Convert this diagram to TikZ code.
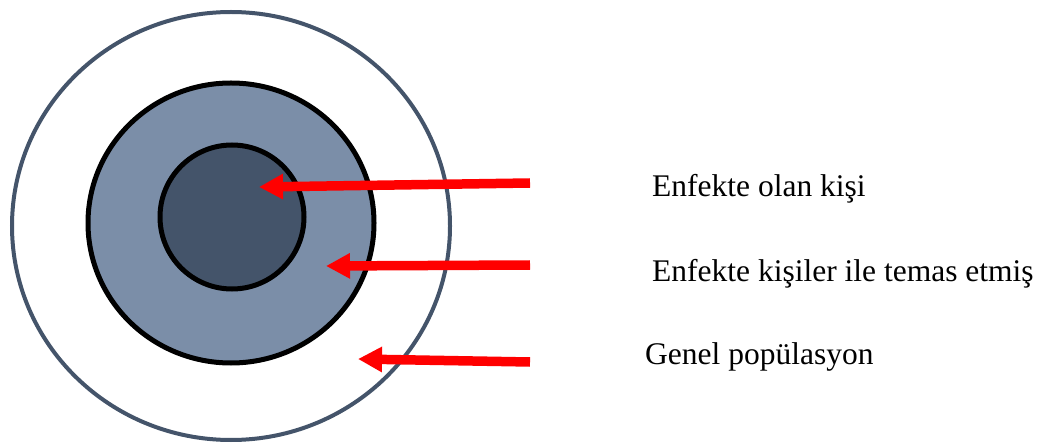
\documentclass[tikz,border=0pt]{standalone}
\usepackage{fontspec}
\setmainfont{Liberation Serif}
\usetikzlibrary{arrows.meta}
\definecolor{slate}{HTML}{44546A}
\definecolor{midblue}{HTML}{7B8EA8}
\definecolor{arrred}{HTML}{FF0000}
\tikzset{
  redarrow/.style={draw=arrred, line width=9.5pt, -{Triangle[length=24pt,width=24pt]}},
  lbl/.style={anchor=base west, inner sep=0pt, font=\fontsize{31.5pt}{34pt}\selectfont}
}
\begin{document}
\begin{tikzpicture}[x=1pt,y=-1pt]
\useasboundingbox (0,0) rectangle (1043,443);
% outer
\draw[slate, line width=4pt, fill=white] (231,226) ellipse [x radius=219, y radius=214];
% middle
\draw[black, line width=5pt, fill=midblue] (231,223) ellipse [x radius=143, y radius=140];
% inner
\draw[black, line width=5pt, fill=slate] (232,217) circle [radius=72];
% labels
\node[lbl] (l1) at (652,197) {Enfekte olan kişi};
\node[lbl] (l2) at (652,282) {Enfekte kişiler ile temas etmiş};
\node[lbl] (l3) at (645,364) {Genel popülasyon};
% arrow coordinates
\coordinate (s1) at (530,183);
\coordinate (t1) at (259,187);
\coordinate (s2) at (530,265);
\coordinate (t2) at (326,266);
\coordinate (s3) at (530,362);
\coordinate (t3) at (358,359);
\draw[redarrow] (s1) -- (t1);
\draw[redarrow] (s2) -- (t2);
\draw[redarrow] (s3) -- (t3);
\end{tikzpicture}
\end{document}
